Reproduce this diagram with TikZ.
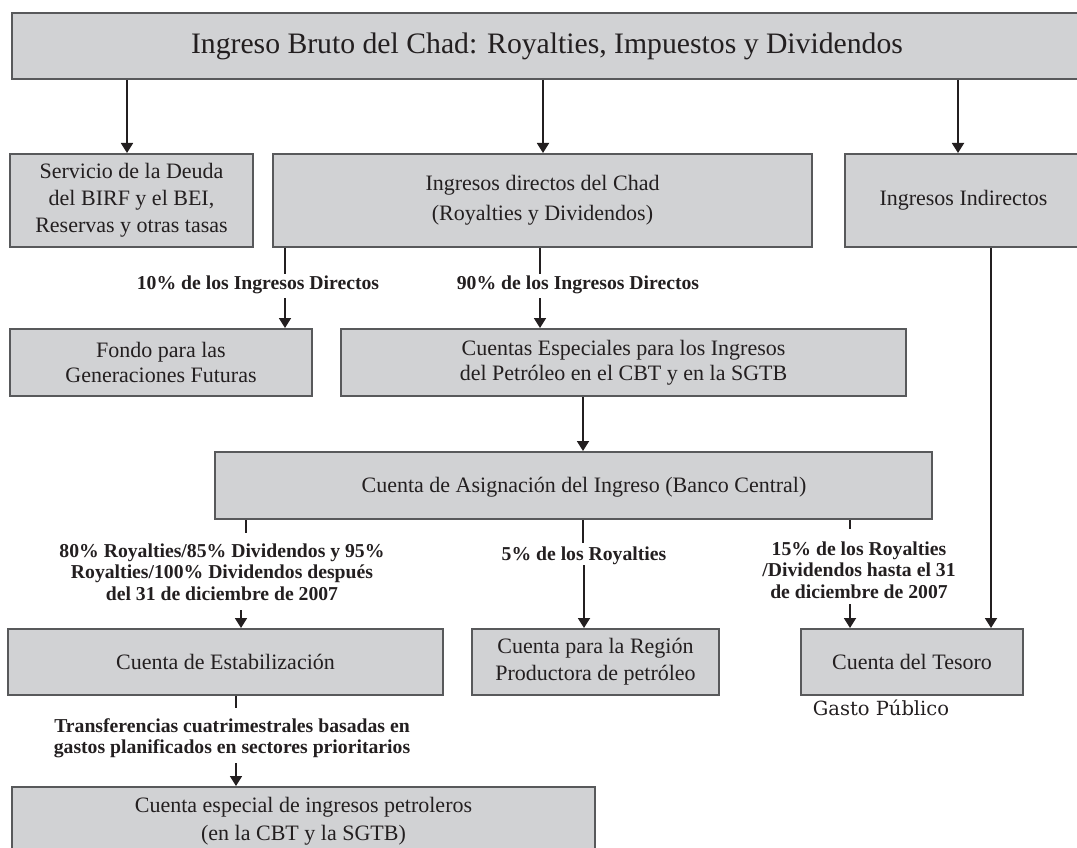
\documentclass[tikz,border=0pt]{standalone}
\usepackage{fontspec}
\setmainfont{Liberation Serif}
\newfontfamily\gastofont{DejaVu Serif}
\usetikzlibrary{arrows.meta}
\definecolor{boxfill}{HTML}{D1D2D4}
\definecolor{boxline}{HTML}{58595B}
\definecolor{ink}{HTML}{231F20}
\begin{document}
\begin{tikzpicture}[x=1pt,y=-1pt,
  box/.style={draw=boxline, fill=boxfill, line width=2pt, inner sep=0pt,
    align=center, text=ink, font=\fontsize{22}{27}\selectfont},
  lab/.style={inner sep=0pt, align=center, text=ink,
    font=\fontsize{19.7}{21.5}\selectfont\bfseries},
  conn/.style={draw=ink, line width=1.8pt},
  arr/.style={conn, -{Triangle[width=12pt,length=10pt]}}]
\useasboundingbox (0,0) rectangle (1077,848);
\begin{scope}
\clip (0,0) rectangle (1077,848);

% boxes
\node[box, minimum width=1070, minimum height=66, font=\fontsize{29.7}{34}\selectfont]
  (title) at (547,46) {Ingreso Bruto del Chad: Royalties, Impuestos y Dividendos};
\node[box, minimum width=243, minimum height=93] (serv) at (131.5,200.5)
  {Servicio de la Deuda\\del BIRF y el BEI,\\Reservas y otras tasas};
\node[box, minimum width=539, minimum height=93, font=\fontsize{22}{30}\selectfont]
  (dir) at (542.5,200.5) {Ingresos directos del Chad\\(Royalties y Dividendos)};
\node[box, minimum width=237, minimum height=93] (indir) at (963.5,200.5)
  {Ingresos Indirectos};
\node[box, minimum width=302, minimum height=67, font=\fontsize{22}{25}\selectfont]
  (fondo) at (161,362.5) {Fondo para las\\Generaciones Futuras};
\node[box, minimum width=565, minimum height=67, font=\fontsize{22}{25}\selectfont]
  (ctaesp) at (623.5,362.5)
  {Cuentas Especiales para los Ingresos\\del Petróleo en el CBT y en la SGTB};
\node[box, minimum width=717, minimum height=67] (asig) at (573.5,485.5) {};
\node[inner sep=0pt, text=ink, font=\fontsize{22}{27}\selectfont] (asigtxt)
  at (584,487) {Cuenta de Asignación del Ingreso (Banco Central)};
\node[box, minimum width=435, minimum height=66] (estab) at (225.5,662)
  {Cuenta de Estabilización};
\node[box, minimum width=247, minimum height=66] (region) at (595.5,662)
  {Cuenta para la Región\\Productora de petróleo};
\node[box, minimum width=222, minimum height=66] (tesoro) at (912,662)
  {Cuenta del Tesoro};
\node[box, minimum width=583, minimum height=68, font=\fontsize{22}{28}\selectfont]
  (final) at (303.5,821)
  {Cuenta especial de ingresos petroleros\\(en la CBT y la SGTB)};

% labels
\node[lab] (l10) at (258,285) {10\% de los Ingresos Directos};
\node[lab] (l90) at (578,285) {90\% de los Ingresos Directos};
\node[lab] (l80) at (222,572)
  {80\% Royalties/85\% Dividendos y 95\%\\Royalties/100\% Dividendos después\\del 31 de diciembre de 2007};
\node[lab] (l5) at (584,556) {5\% de los Royalties};
\node[lab] (l15) at (859,570)
  {15\% de los Royalties\\/Dividendos hasta el 31\\de diciembre de 2007};
\node[lab] (ltr) at (232,738)
  {Transferencias cuatrimestrales basadas en\\gastos planificados en sectores prioritarios};
\node[inner sep=0pt, text=ink, font=\gastofont\fontsize{19.5}{22}\selectfont]
  (gasto) at (881,708) {Gasto Público};

% free ends of the split connectors
\coordinate (a10) at (285,274);  \coordinate (b10) at (285,298);
\coordinate (a90) at (540,274);  \coordinate (b90) at (540,298);
\coordinate (a80) at (246,533);  \coordinate (b80) at (241,610);
\coordinate (a5)  at (583,543);  \coordinate (b5)  at (584,565);
\coordinate (a15) at (850,529);  \coordinate (b15) at (850,604);
\coordinate (atr) at (236,708);  \coordinate (btr) at (236,763);
\coordinate (xt1) at (127,0);    \coordinate (xt2) at (543,0);
\coordinate (xt3) at (958,0);    \coordinate (xce) at (583,0);
\coordinate (xin) at (991,0);

% connectors
\draw[arr] (xt1 |- title.south) -- (xt1 |- serv.north);
\draw[arr] (xt2 |- title.south) -- (xt2 |- dir.north);
\draw[arr] (xt3 |- title.south) -- (xt3 |- indir.north);
\draw[conn] (a10 |- dir.south) -- (a10);
\draw[arr] (b10) -- (b10 |- fondo.north);
\draw[conn] (a90 |- dir.south) -- (a90);
\draw[arr] (b90) -- (b90 |- ctaesp.north);
\draw[arr] (xce |- ctaesp.south) -- (xce |- asig.north);
\draw[conn] (a80 |- asig.south) -- (a80);
\draw[arr] (b80) -- (b80 |- estab.north);
\draw[conn] (a5 |- asig.south) -- (a5);
\draw[arr] (b5) -- (b5 |- region.north);
\draw[conn] (a15 |- asig.south) -- (a15);
\draw[arr] (b15) -- (b15 |- tesoro.north);
\draw[arr] (xin |- indir.south) -- (xin |- tesoro.north);
\draw[conn] (atr |- estab.south) -- (atr);
\draw[arr] (btr) -- (btr |- final.north);
\end{scope}
\end{tikzpicture}
\end{document}
